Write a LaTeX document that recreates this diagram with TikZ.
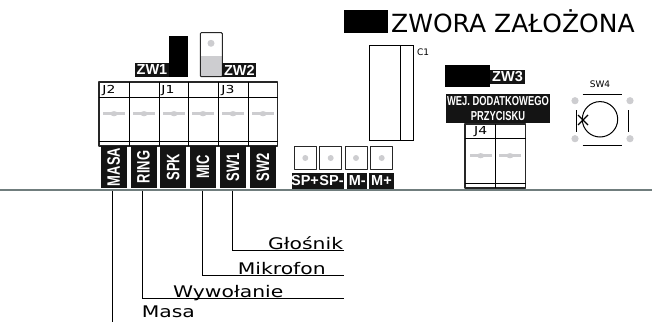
\documentclass[tikz,border=0pt]{standalone}
\usepackage{fontspec}
\setmainfont{DejaVu Sans}
\newfontfamily\narrowfont[FakeStretch=0.72]{Liberation Sans}
\newfontfamily\zwfont{Liberation Sans}
\newfontfamily\widefont[FakeStretch=1.27]{DejaVu Sans}

\definecolor{pingrey}{RGB}{205,205,208}
\definecolor{bargrey}{RGB}{112,125,125}
\definecolor{labelblack}{RGB}{20,20,20}

\def\pinmark(#1,#2){\fill[pingrey] (#1-11,#2-1.3) rectangle (#1+11,#2+1.3); \fill[pingrey] (#1,#2) ellipse (3.5 and 2.6);}

\tikzset{
pinlabel/.style={fill=labelblack,text=white,inner sep=0pt,font=\narrowfont\bfseries\fontsize{18}{18}\selectfont,rotate=90,minimum height=26pt,minimum width=41.5pt},
padlabel/.style={text=white,inner sep=0pt,font=\zwfont\bfseries\fontsize{14.5}{14.5}\selectfont},
zwlabel/.style={fill=labelblack,text=white,inner sep=0pt,font=\zwfont\bfseries\fontsize{14.5}{14.5}\selectfont,minimum height=14pt},
joint/.style={text=black,inner sep=0pt,font=\widefont\fontsize{11}{11}\selectfont},
wirelabel/.style={inner sep=0pt,anchor=base west,font=\widefont\fontsize{16}{16}\selectfont},
frame/.style={draw=black!85,line width=1.5pt,line join=round},
wire/.style={draw=black,line width=1pt},
}

\begin{document}
\begin{tikzpicture}[x=1pt,y=-1pt]
\useasboundingbox (0,0) rectangle (652,321);
\clip (0,0) rectangle (652,321);

% title
\fill[black] (344,10) rectangle (388,33);
\node[inner sep=0pt,anchor=base west,font=\fontsize{25}{25}\selectfont] (title) at (391,32.7) {ZWORA ZAŁOŻONA};

% block J1 J2 J3
\draw[frame] (99,82) rectangle (277.5,146);
\draw[line width=1pt] (99,97.7) -- (277.5,97.7);
\draw[line width=1pt] (99,141.7) -- (277.5,141.7);
\foreach \x in {129,159,188.7,218.3,248}
  \draw[line width=1pt] (\x,82) -- (\x,146);
\foreach \x in {114,144,174,203,233,263}
  \pinmark(\x,113.7);
\node[joint] (j2) at (109,91) {J2};
\node[joint] (j1) at (168,91) {J1};
\node[joint] (j3) at (228,91) {J3};

\node[pinlabel] (masa) at (113.8,167) {MASA};
\node[pinlabel] (ring) at (143.5,167) {RING};
\node[pinlabel] (spk) at (173.3,167) {SPK};
\node[pinlabel] (mic) at (203,167) {MIC};
\node[pinlabel] (swa) at (232.8,167) {SW1};
\node[pinlabel] (swb) at (263,167) {SW2};

% jumpers
\fill[black] (169,36) rectangle (188,76.7);
\node[zwlabel,minimum width=34pt] (zwa) at (152,70) {ZW1};
\fill[pingrey] (200.5,56) rectangle (222,76.5);
\draw[black!85,line width=1pt,rounded corners=1pt] (200.3,32.7) rectangle (222.3,76.7);
\fill[pingrey] (211,43.3) circle (3.5);
\node[zwlabel,minimum width=34pt] (zwb) at (239.3,70) {ZW2};

% C1
\draw[line width=1pt] (369,45.7) rectangle (413.3,140.7);
\draw[line width=1pt] (400,45.7) -- (400,140.7);
\node[joint,font=\fontsize{9}{9}\selectfont] (ca) at (423,52) {C1};

% pads
\foreach \x in {294.3,319.7,345,370.7}{
  \draw[frame,line width=1pt] (\x,146.7) rectangle +(22,22.6);
  \fill[pingrey] (\x+11,158) circle (3);
}
\fill[labelblack] (291.7,172.7) rectangle (344.3,189);
\fill[labelblack] (347.3,172.7) rectangle (367.3,189);
\fill[labelblack] (369,172.7) rectangle (394,189);
\node[padlabel] (spp) at (305,181) {SP+};
\node[padlabel] (spm) at (331.5,181) {SP-};
\node[padlabel] (mm) at (357.3,181) {M-};
\node[padlabel] (mp) at (381.5,181) {M+};

% ZW3 and J4
\fill[black] (445.3,65) rectangle (490,86.7);
\node[zwlabel,minimum width=35pt] (zwc) at (507.5,77) {ZW3};
\node[fill=labelblack,text=white,inner sep=0pt,minimum width=104pt,minimum height=28.7pt,align=center,font=\narrowfont\bfseries\fontsize{13}{14.5}\selectfont] (wej) at (498,108.4) {WEJ. DODATKOWEGO\\PRZYCISKU};
\draw[frame] (465,124) rectangle (525.7,188);
\draw[line width=1pt] (465,138.3) -- (525.7,138.3);
\draw[line width=1pt] (465,183.3) -- (525.7,183.3);
\draw[line width=1pt] (495.7,124) -- (495.7,188);
\pinmark(480.7,155.7);
\pinmark(510,155.7);
\node[joint] (jd) at (480.7,132) {J4};

% SW4
\node[joint,font=\fontsize{9}{9}\selectfont] (swd) at (600,84) {SW4};
\foreach \x in {575,630}
  \foreach \y in {100.7,138.7}
    \fill[pingrey] (\x,\y) circle (3.6);
\draw[line width=1pt] (582.7,94) -- (621.7,94);
\draw[line width=1pt] (582.7,145.3) -- (621.7,145.3);
\draw[line width=1pt] (576.7,110) -- (576.7,131.7);
\draw[line width=1pt] (628.3,110) -- (628.3,131.7);
\draw[line width=1pt] (600,119.3) circle (17.7);
\draw[line width=1.2pt] (578,115) -- (588,125);
\draw[line width=1.2pt] (578,125) -- (588,115);

% grey line
\draw[bargrey,line width=2pt] (0,189.5) -- (652,189.5);

% wires
\coordinate (wmasa) at (112.7,190.5);
\coordinate (wring) at (142,190.5);
\coordinate (wmic) at (202.7,190.5);
\coordinate (wsw) at (232,190.5);
\coordinate (endmasa) at (112.7,322);
\coordinate (endring) at (344,298);
\coordinate (endmic) at (344,275.7);
\coordinate (endsw) at (344,250);
\draw[wire] (wsw) |- (endsw);
\draw[wire] (wmic) |- (endmic);
\draw[wire] (wring) |- (endring);
\draw[wire] (wmasa) -- (endmasa);
\node[wirelabel] (glosnik) at (268,249) {Głośnik};
\node[wirelabel] (mikrofon) at (237.7,274.7) {Mikrofon};
\node[wirelabel] (wywolanie) at (173,297) {Wywołanie};
\node[wirelabel] (lmasa) at (141.7,317) {Masa};
\end{tikzpicture}
\end{document}
